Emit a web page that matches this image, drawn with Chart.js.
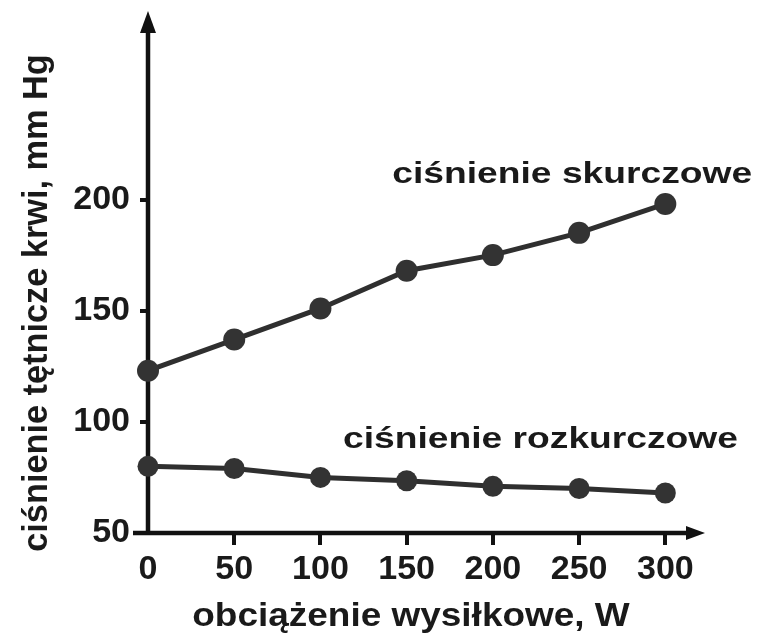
<html>
<script src="https://cdn.jsdelivr.net/npm/chart.js@4.4.1/dist/chart.umd.min.js"></script>
<body style="margin:0;background:#fff">

<canvas id="myChart" width="758" height="636"></canvas>

<script>
    // values
    const loads = [0, 50, 100, 150, 200, 250, 300];
    const systolic = [123, 137, 151, 168, 175, 185, 198];
    const diastolic = [80, 79, 75, 73.5, 71, 70, 68];
    const xTicks = [0, 50, 100, 150, 200, 250, 300];
    const yTicks = [50, 100, 150, 200];
    const seriesNames = ["ciśnienie skurczowe", "ciśnienie rozkurczowe"];
    const xTitle = "obciążenie wysiłkowe, W";
    const yTitle = "ciśnienie tętnicze krwi, mm Hg";

    // where the series names sit (data units, centre / baseline)
    const nameAnchors = [{ x: 246, y: 207.6 }, { x: 227.6, y: 88.2 }];

    const ink = "#1a1a1a";
    const lineInk = "#2f2f2f";
    const fam = "'Liberation Sans', Arial, sans-serif";

    function stretchedText(ctx, text, x, y, size, sx, rot) {
        ctx.save();
        ctx.translate(x, y);
        if (rot) ctx.rotate(rot);
        ctx.scale(sx, 1);
        ctx.font = "bold " + size + "px " + fam;
        ctx.fillStyle = ink;
        ctx.textAlign = "center";
        ctx.textBaseline = "alphabetic";
        ctx.fillText(text, 0, 0);
        ctx.restore();
    }

    const axesPlugin = {
        id: "axesPlugin",
        beforeDatasetsDraw(chart) {
            const { ctx, chartArea, scales } = chart;
            const x0 = scales.x.getPixelForValue(0);
            const y0 = scales.y.getPixelForValue(50);
            ctx.save();
            ctx.strokeStyle = "#111";
            ctx.fillStyle = "#111";
            ctx.lineWidth = 4.5;
            // y axis with arrow
            ctx.beginPath();
            ctx.moveTo(x0, y0 + 2);
            ctx.lineTo(x0, chartArea.top + 20);
            ctx.stroke();
            ctx.beginPath();
            ctx.moveTo(x0, chartArea.top);
            ctx.lineTo(x0 - 8, chartArea.top + 22);
            ctx.lineTo(x0 + 8, chartArea.top + 22);
            ctx.closePath();
            ctx.fill();
            // x axis with arrow
            ctx.beginPath();
            ctx.moveTo(chartArea.left - 15, y0);
            ctx.lineTo(chartArea.right - 16, y0);
            ctx.stroke();
            ctx.beginPath();
            ctx.moveTo(chartArea.right, y0);
            ctx.lineTo(chartArea.right - 19, y0 - 7);
            ctx.lineTo(chartArea.right - 19, y0 + 7);
            ctx.closePath();
            ctx.fill();
            ctx.restore();
        },
        afterDraw(chart) {
            const { ctx, scales } = chart;
            seriesNames.forEach((name, i) => {
                const px = scales.x.getPixelForValue(nameAnchors[i].x);
                const py = scales.y.getPixelForValue(nameAnchors[i].y);
                stretchedText(ctx, name, px, py, 30, 1.24, 0);
            });
            stretchedText(ctx, xTitle, 411, 626, 33, 1.12, 0);
            stretchedText(ctx, yTitle, 47, 303, 35, 0.98, -Math.PI / 2);
        }
    };

    new Chart("myChart", {
        type: "line",
        data: {
            datasets: [
                {
                    label: seriesNames[0],
                    data: loads.map((l, i) => ({ x: l, y: systolic[i] })),
                    borderColor: lineInk,
                    backgroundColor: "#333",
                    borderWidth: 5,
                    pointRadius: 11,
                    pointBorderWidth: 0,
                    clip: false
                },
                {
                    label: seriesNames[1],
                    data: loads.map((l, i) => ({ x: l, y: diastolic[i] })),
                    borderColor: lineInk,
                    backgroundColor: "#333",
                    borderWidth: 5,
                    pointRadius: 10.5,
                    pointBorderWidth: 0,
                    clip: false
                }
            ]
        },
        options: {
            responsive: false,
            animation: false,
            events: [],
            layout: { padding: { top: 10, right: 53, left: 0, bottom: 0 } },
            plugins: { legend: { display: false }, tooltip: { enabled: false } },
            scales: {
                x: {
                    type: "linear",
                    min: 0,
                    max: 323,
                    afterBuildTicks: s => { s.ticks = xTicks.map(v => ({ value: v })); },
                    afterFit: s => { s.height = 103; s.paddingLeft = 0; s.paddingRight = 0; },
                    border: { display: false },
                    grid: {
                        drawOnChartArea: false,
                        tickLength: 12,
                        lineWidth: 4,
                        color: c => (c.tick && c.tick.value === 0) ? "rgba(0,0,0,0)" : "#111"
                    },
                    ticks: {
                        autoSkip: false,
                        maxRotation: 0,
                        padding: 4,
                        color: ink,
                        font: { family: fam, size: 34, weight: "bold" }
                    }
                },
                y: {
                    min: 50,
                    max: 284.8,
                    afterBuildTicks: s => { s.ticks = yTicks.map(v => ({ value: v })); },
                    afterFit: s => { s.width = 148; s.paddingTop = 0; s.paddingBottom = 0; },
                    border: { display: false },
                    grid: {
                        drawOnChartArea: false,
                        tickLength: 8,
                        lineWidth: 4,
                        color: "#111"
                    },
                    ticks: {
                        autoSkip: false,
                        padding: 10,
                        color: ink,
                        font: { family: fam, size: 34, weight: "bold" }
                    }
                }
            }
        },
        plugins: [axesPlugin]
    });
</script>

</body>
</html>
